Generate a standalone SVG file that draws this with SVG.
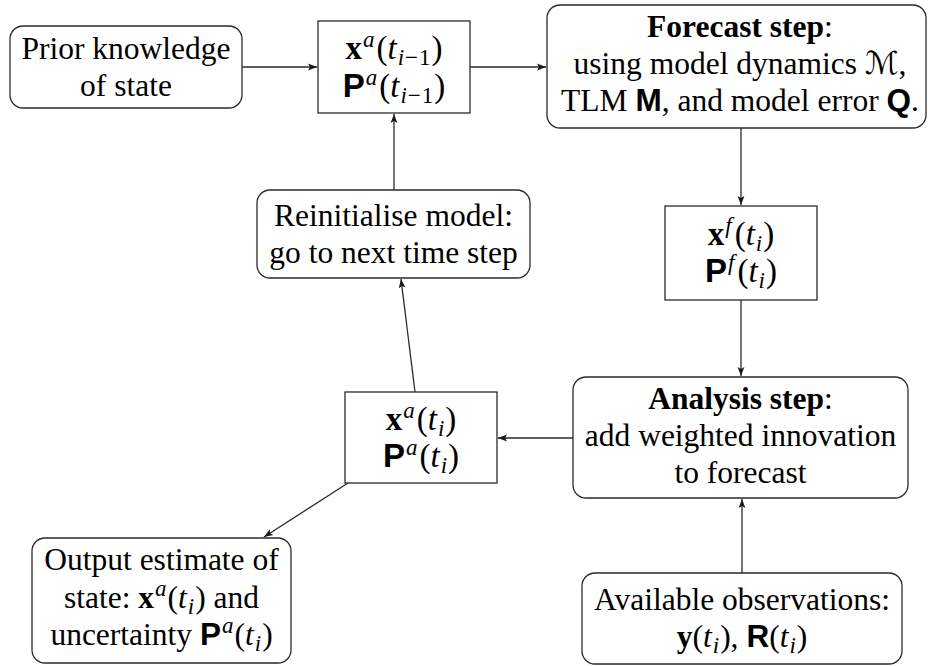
<svg xmlns="http://www.w3.org/2000/svg" width="928" height="666" viewBox="0 0 928 666">
<defs>
<style>
.box{fill:#fff;stroke:#2a2a2a;stroke-width:1.3}
.t{font-size:31.5px;text-anchor:middle;fill:#000}
.m{font-size:33px}
.b{font-weight:bold}
.bx{font-weight:bold}
.sf{font-family:'Liberation Sans',Arial,sans-serif;font-weight:bold}
.it{font-style:italic}
.s{font-size:23px}
.cal{font-family:'DejaVu Sans','Noto Sans',sans-serif;font-style:normal}
.edge{stroke:#2a2a2a;stroke-width:1.3;fill:none;marker-end:url(#arr)}
</style>
<marker id="arr" markerWidth="10" markerHeight="8" refX="9" refY="4" orient="auto" markerUnits="userSpaceOnUse">
<path d="M0,0.6 L9,4 L0,7.4 L2,4 z" fill="#1a1a1a"/>
</marker>
</defs>

<g id="connectors">
<line class="edge" x1="242" y1="67" x2="317" y2="67"/>
<line class="edge" x1="470" y1="67" x2="546" y2="67"/>
<line class="edge" x1="741" y1="128" x2="741" y2="205"/>
<line class="edge" x1="741" y1="300" x2="741" y2="376"/>
<line class="edge" x1="742" y1="573" x2="742" y2="499"/>
<line class="edge" x1="573" y1="438" x2="498" y2="438"/>
<line class="edge" x1="415" y1="392" x2="401" y2="279"/>
<line class="edge" x1="394" y1="190" x2="394" y2="114"/>
<line class="edge" x1="348" y1="483" x2="264" y2="537"/>
</g>

<g font-family="'Liberation Serif','Times New Roman',serif">
<g id="prior">
<rect class="box" x="10" y="26" width="232" height="82" rx="13"/>
<text class="t" x="126" y="59">Prior knowledge</text>
<text class="t" x="126" y="96">of state</text>
</g>

<g id="xa_prev">
<rect class="box" x="318" y="21" width="152" height="92"/>
<text class="t m" x="394" y="59"><tspan class="bx">x</tspan><tspan class="s it" dx="1" dy="-12">a</tspan><tspan dx="2" dy="12">(</tspan><tspan class="it">t</tspan><tspan class="s it" dx="1" dy="6">i</tspan><tspan class="s" dx="1">−</tspan><tspan class="s" dx="1">1</tspan><tspan dx="1" dy="-6">)</tspan></text>
<text class="t m" x="394" y="97"><tspan class="sf">P</tspan><tspan class="s it" dx="1" dy="-12">a</tspan><tspan dx="2" dy="12">(</tspan><tspan class="it">t</tspan><tspan class="s it" dx="1" dy="6">i</tspan><tspan class="s" dx="1">−</tspan><tspan class="s" dx="1">1</tspan><tspan dx="1" dy="-6">)</tspan></text>
</g>

<g id="forecast">
<rect class="box" x="547" y="5" width="379" height="123" rx="13"/>
<text class="t" x="740" y="37"><tspan class="b">Forecast step</tspan>:</text>
<text class="t" x="740" y="74">using model dynamics <tspan class="cal">ℳ</tspan>,</text>
<text class="t" x="740" y="111">TLM <tspan class="sf">M</tspan>, and model error <tspan class="sf">Q</tspan>.</text>
</g>

<g id="xf">
<rect class="box" x="665" y="206" width="152" height="94"/>
<text class="t m" x="741" y="245"><tspan class="bx">x</tspan><tspan class="s it" dx="1" dy="-12">f</tspan><tspan dx="3" dy="12">(</tspan><tspan class="it">t</tspan><tspan class="s it" dx="1" dy="6">i</tspan><tspan dx="1" dy="-6">)</tspan></text>
<text class="t m" x="741" y="282"><tspan class="sf">P</tspan><tspan class="s it" dx="1" dy="-12">f</tspan><tspan dx="3" dy="12">(</tspan><tspan class="it">t</tspan><tspan class="s it" dx="1" dy="6">i</tspan><tspan dx="1" dy="-6">)</tspan></text>
</g>

<g id="reinit">
<rect class="box" x="257" y="190" width="273" height="88" rx="13"/>
<text class="t" x="393.5" y="226">Reinitialise model:</text>
<text class="t" x="393.5" y="263">go to next time step</text>
</g>

<g id="xa_cur">
<rect class="box" x="345" y="392" width="152" height="91"/>
<text class="t m" x="421" y="430"><tspan class="bx">x</tspan><tspan class="s it" dx="1" dy="-12">a</tspan><tspan dx="2" dy="12">(</tspan><tspan class="it">t</tspan><tspan class="s it" dx="1" dy="6">i</tspan><tspan dx="1" dy="-6">)</tspan></text>
<text class="t m" x="421" y="467"><tspan class="sf">P</tspan><tspan class="s it" dx="1" dy="-12">a</tspan><tspan dx="2" dy="12">(</tspan><tspan class="it">t</tspan><tspan class="s it" dx="1" dy="6">i</tspan><tspan dx="1" dy="-6">)</tspan></text>
</g>

<g id="analysis">
<rect class="box" x="573" y="377" width="335" height="121" rx="13"/>
<text class="t" x="740.5" y="409"><tspan class="b">Analysis step</tspan>:</text>
<text class="t" x="740.5" y="446">add weighted innovation</text>
<text class="t" x="740.5" y="483">to forecast</text>
</g>

<g id="output">
<rect class="box" x="32" y="538" width="259" height="125" rx="13"/>
<text class="t" x="161.5" y="570">Output estimate of</text>
<text class="t" x="161.5" y="608">state: <tspan class="bx">x</tspan><tspan class="s it" dx="1" dy="-12">a</tspan><tspan dx="1" dy="12">(</tspan><tspan class="it">t</tspan><tspan class="s it" dx="1" dy="6">i</tspan><tspan dx="1" dy="-6">)</tspan> and</text>
<text class="t" x="161.5" y="645">uncertainty <tspan class="sf">P</tspan><tspan class="s it" dx="1" dy="-12">a</tspan><tspan dx="1" dy="12">(</tspan><tspan class="it">t</tspan><tspan class="s it" dx="1" dy="6">i</tspan><tspan dx="1" dy="-6">)</tspan></text>
</g>

<g id="observations">
<rect class="box" x="582" y="573" width="320" height="91" rx="13"/>
<text class="t" x="742" y="610">Available observations:</text>
<text class="t" x="742" y="647"><tspan class="bx">y</tspan>(<tspan class="it">t</tspan><tspan class="s it" dx="1" dy="6">i</tspan><tspan dx="1" dy="-6">),</tspan> <tspan class="sf">R</tspan>(<tspan class="it">t</tspan><tspan class="s it" dx="1" dy="6">i</tspan><tspan dx="1" dy="-6">)</tspan></text>
</g>
</g>
</svg>
